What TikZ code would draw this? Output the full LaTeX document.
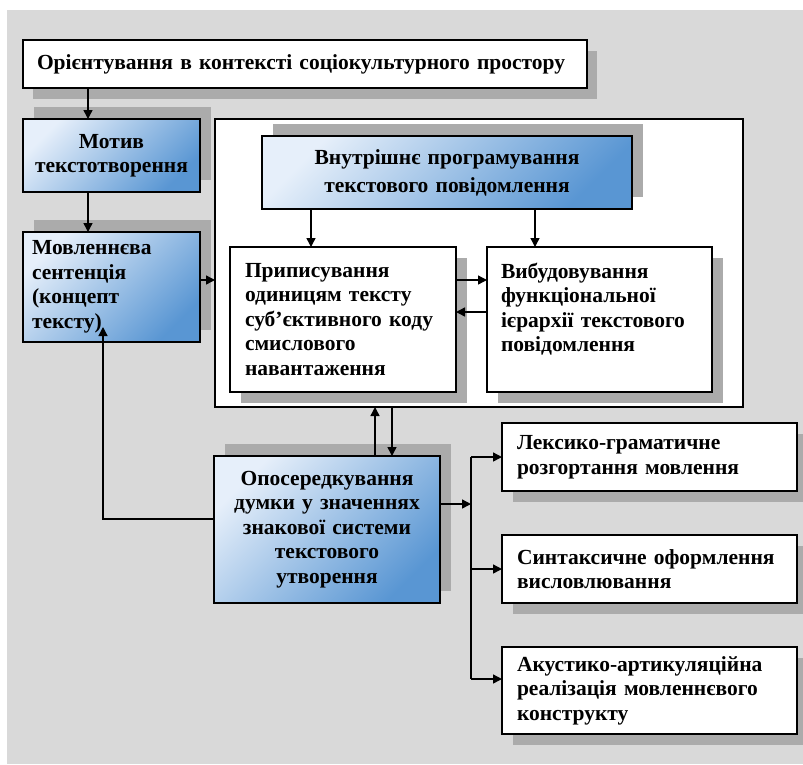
\documentclass[tikz,border=0pt]{standalone}
\usepackage{fontspec}
\setmainfont{Liberation Serif}
\usetikzlibrary{arrows.meta}
\definecolor{bggray}{HTML}{D9D9D9}
\definecolor{shgray}{HTML}{ABABAB}
\definecolor{bluelight}{HTML}{E6EFFA}
\definecolor{bluedark}{HTML}{5996D3}
\begin{document}
\begin{tikzpicture}[x=1pt,y=-1pt,
  every node/.style={font=\fontsize{21.5}{24.5}\selectfont\bfseries},
  frame/.style={draw=black, line width=1.3pt, anchor=north west, inner ysep=0pt, outer sep=0pt},
  wbox/.style={frame, fill=white},
  bbox/.style={frame, top color=bluelight, bottom color=bluedark, shading angle=45},
  shadow/.style={fill=shgray, draw=none},
  arr/.style={line width=1.4pt, -{Triangle[length=9pt,width=9pt]}},
  plain/.style={line width=1.4pt}]
\clip (0,0) rectangle (803,764);
\fill[white] (0,0) rectangle (803,764);
\fill[bggray] (7,10) rectangle (803,764);
% outer shadows
\fill[shadow] (33,51) rectangle +(564,48);
\fill[shadow] (34,107) rectangle +(177,73);
\fill[shadow] (34,220) rectangle +(177,110);
\fill[shadow] (225,444) rectangle +(226,147);
\fill[shadow] (513,434) rectangle +(295,68);
\fill[shadow] (513,546) rectangle +(295,68);
\fill[shadow] (513,658) rectangle +(295,87);
% big frame
\node[wbox, minimum width=528pt, minimum height=288pt, inner sep=0pt] (big) at (215,119) {};
% inner shadows
\fill[shadow] (273,124) rectangle +(370,73);
\fill[shadow] (241,258) rectangle +(226,145);
\fill[shadow] (498,258) rectangle +(225,145);
% boxes
\node[wbox, inner xsep=14pt, text width=536pt, minimum height=48pt, align=left] (top) at (23,40)
  {Орієнтування в контексті соціокультурного простору};
\node[bbox, inner xsep=4pt, text width=169pt, minimum height=73pt, align=center] (motyv) at (23,119)
  {Мотив\\текстотворення};
\node[bbox, inner xsep=9pt, text width=159pt, minimum height=110pt, align=left] (movl) at (23,232)
  {Мовленнєва\\сентенція\\(концепт\\тексту)};
\node[bbox, inner xsep=4pt, text width=362pt, minimum height=73pt, align=center] (vnutr) at (262,136)
  {Внутрішнє програмування\\[3.5pt]текстового повідомлення};
\node[wbox, inner xsep=15pt, text width=196pt, minimum height=145pt, align=left] (prypys) at (230,247)
  {Приписування\\одиницям  тексту\\суб’єктивного коду\\смислового\\навантаження};
\node[wbox, inner xsep=14pt, text width=197pt, minimum height=145pt, align=left] (vybud) at (487,247)
  {Вибудовування\\функціональної\\ієрархії текстового\\повідомлення\\\mbox{}};
\node[bbox, inner xsep=4pt, text width=218pt, minimum height=147pt, align=center] (opos) at (214,456)
  {Опосередкування\\думки у значеннях\\знакової системи\\текстового\\утворення};
\node[wbox, inner xsep=15pt, text width=265pt, minimum height=68pt, align=left] (leks) at (502,423)
  {Лексико-граматичне\\розгортання мовлення};
\node[wbox, inner xsep=15pt, text width=265pt, minimum height=68pt, align=left] (synt) at (502,535)
  {Синтаксичне оформлення\\висловлювання};
\node[wbox, inner xsep=15pt, text width=265pt, minimum height=87pt, align=left] (akust) at (502,647)
  {Акустико-артикуляційна\\реалізація мовленнєвого\\конструкту};
% helper coordinates
\coordinate (c1) at ([xshift=65pt]top.south west);
\coordinate (c2) at ([xshift=65pt]motyv.north west);
\coordinate (c3) at ([xshift=65pt]motyv.south west);
\coordinate (c4) at ([xshift=65pt]movl.north west);
\coordinate (m1) at ([yshift=7pt]movl.east);
\coordinate (v1) at ([xshift=81pt]prypys.north west);
\coordinate (v2) at ([xshift=48pt]vybud.north west);
\coordinate (r1) at ([yshift=39.5pt]prypys.east);
\coordinate (r2) at ([yshift=7.5pt]vybud.west);
\coordinate (u1) at ([xshift=161pt]opos.north west);
\coordinate (d1) at ([xshift=178pt]opos.north west);
\coordinate (b1) at ([yshift=10.5pt]opos.west);
\coordinate (b2) at (103,327);
\coordinate (o1) at ([yshift=25.5pt]opos.east);
\coordinate (bx) at (471,0);
\coordinate (ak) at ([yshift=11.5pt]akust.west);
% connectors
\draw[arr] (c1) -- (c2);
\draw[arr] (c3) -- (c4);
\draw[arr] (m1) -- (m1 -| big.west);
\draw[arr] (v1 |- vnutr.south) -- (v1);
\draw[arr] (v2 |- vnutr.south) -- (v2);
\draw[arr] (r1) -- (r1 -| vybud.west);
\draw[arr] (r2) -- (r2 -| prypys.east);
\draw[arr] (u1) -- (u1 |- big.south);
\draw[arr] (d1 |- big.south) -- (d1);
\draw[arr] (b1) -| (b2);
\draw[arr] (o1) -- (o1 -| bx);
\draw[plain] (bx |- leks.west) -- (bx |- ak);
\draw[arr] (bx |- leks.west) -- (leks.west);
\draw[arr] (bx |- synt.west) -- (synt.west);
\draw[arr] (bx |- ak) -- (ak);
\end{tikzpicture}
\end{document}
